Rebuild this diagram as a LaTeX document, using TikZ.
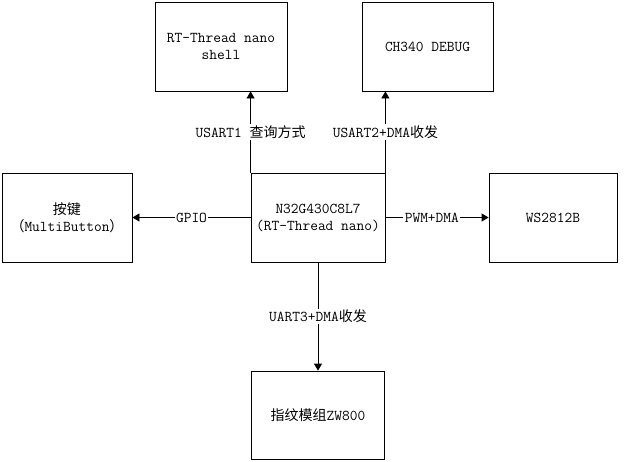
\documentclass[tikz,border=0pt]{standalone}
\usepackage{fontspec}
\setmainfont{Latin Modern Mono}
\newfontfamily\cjk{Noto Sans CJK SC}
\usetikzlibrary{arrows.meta}
\newcommand{\zh}[1]{{\cjk\fontsize{14}{16}\selectfont #1}}
\begin{document}
\begin{tikzpicture}[x=1pt,y=-1pt,
  box/.style={draw=black,line width=0.8pt,fill=white,inner sep=0pt,align=center,font=\fontsize{15}{17}\selectfont},
  arr/.style={draw=black,line width=0.8pt,-{Triangle[width=8pt,length=7pt]}},
  lbl/.style={fill=white,inner sep=1.5pt,font=\fontsize{15}{15}\selectfont}]
\useasboundingbox (0,0) rectangle (624,461);
\node[box,minimum width=132pt,minimum height=89pt] (shell) at (221,46.5) {RT-Thread nano\\shell};
\node[box,minimum width=131pt,minimum height=89pt] (ch) at (427.5,46.5) {CH340 DEBUG};
\node[box,minimum width=134pt,minimum height=89pt] (mcu) at (318,217.5) {N32G430C8L7\\(RT-Thread nano)};
\node[box,minimum width=130pt,minimum height=89pt] (key) at (67,217.5) {\zh{按键}\\\zh{（}MultiButton\zh{）}};
\node[box,minimum width=128pt,minimum height=89pt] (ws) at (553,217.5) {WS2812B};
\node[box,minimum width=133pt,minimum height=88pt] (fp) at (318,415) {\zh{指纹模组}ZW800};
\draw[arr] (mcu.north west) -- (mcu.north west |- shell.south)
  node[lbl,pos=0.5] {USART1 \zh{查询方式}};
\draw[arr] (mcu.north east) -- (mcu.north east |- ch.south)
  node[lbl,pos=0.5] {USART2+DMA\zh{收发}};
\draw[arr] (mcu.west) -- (key.east) node[lbl,pos=0.5] {GPIO};
\draw[arr] (mcu.east) -- (ws.west) node[lbl,pos=0.45] {PWM+DMA};
\draw[arr] (mcu.south) -- (fp.north) node[lbl,pos=0.5] {UART3+DMA\zh{收发}};
\end{tikzpicture}
\end{document}
